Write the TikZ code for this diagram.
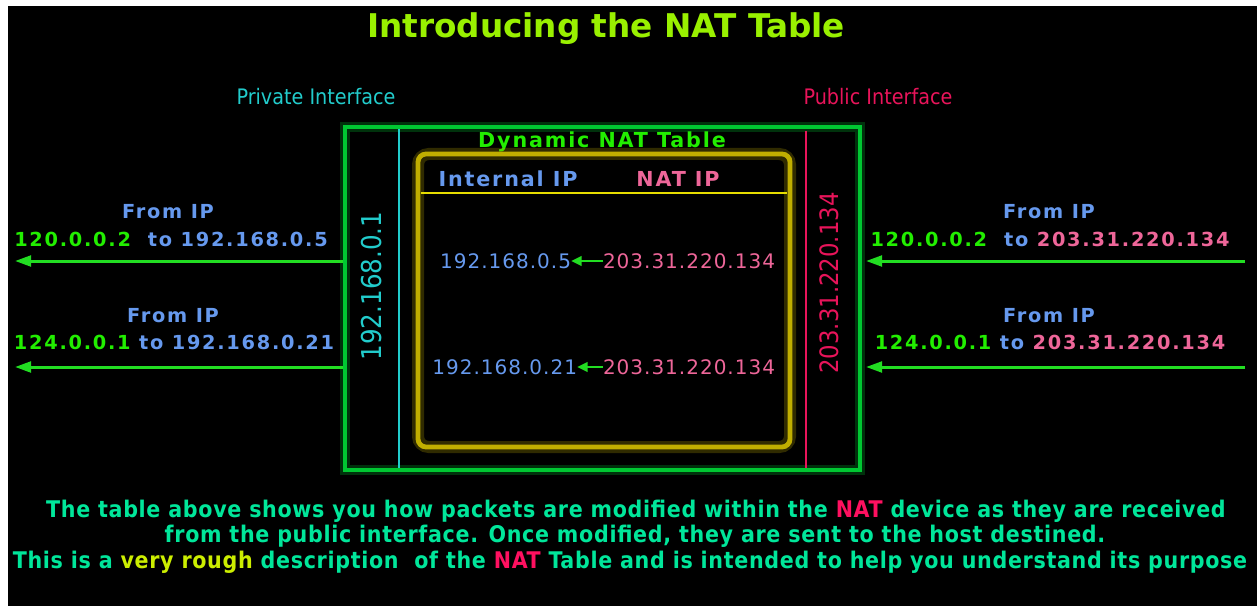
\documentclass[tikz,border=0pt]{standalone}
\usepackage{fontspec}
\setmainfont{DejaVu Sans}
\newfontfamily\pixreg{DejaVu Sans}[LetterSpace=5]
\newfontfamily\pixbold{DejaVu Sans}[LetterSpace=9]
\newfontfamily\condreg{DejaVu Sans Condensed}
\newfontfamily\condbold{DejaVu Sans Condensed Bold}[LetterSpace=3]
\usetikzlibrary{arrows.meta}

\definecolor{titlegreen}{HTML}{99F000}
\definecolor{boxgreen}{HTML}{00C832}
\definecolor{arrowgreen}{HTML}{22DD22}
\definecolor{ipgreen}{HTML}{22EE00}
\definecolor{privcyan}{HTML}{22CCCC}
\definecolor{pubred}{HTML}{E8145A}
\definecolor{tabyellow}{HTML}{C0AE00}
\definecolor{headyellow}{HTML}{E6DC00}
\definecolor{ipblue}{HTML}{6699EE}
\definecolor{ippink}{HTML}{EE6699}
\definecolor{notegreen}{HTML}{00E69A}
\definecolor{roughyellow}{HTML}{CCEE00}
\definecolor{natred}{HTML}{FF1060}

\tikzset{
  txt/.style={inner sep=0pt, outer sep=0pt},
  fromlbl/.style={txt, text=ipblue, font=\pixbold\bfseries\fontsize{14.5}{17}\selectfont},
  pathlbl/.style={txt, font=\pixbold\bfseries\fontsize{14.5}{17}\selectfont},
  cellip/.style={txt, font=\pixreg\fontsize{15}{18}\selectfont},
  colhead/.style={txt, font=\pixbold\bfseries\fontsize{15.5}{18}\selectfont},
  ifacelbl/.style={txt, font=\condreg\fontsize{16}{19}\selectfont},
  rotip/.style={txt, rotate=90, font=\condreg\fontsize{19.5}{22}\selectfont},
  note/.style={txt, text=notegreen, font=\condbold\fontsize{17.2}{20}\selectfont},
  flow/.style={draw=arrowgreen, line width=2.25pt, -{Triangle[length=12pt,width=8pt]}},
  mapflow/.style={draw=arrowgreen, line width=2pt, -{Triangle[length=8pt,width=7pt]}},
}

\begin{document}
\begin{tikzpicture}[x=0.75pt, y=-0.75pt]
  % page and black backdrop
  \fill[white] (0,0) rectangle (1257,606);
  \fill[black] (8,6) rectangle (1257,606);
  \useasboundingbox (0,0) rectangle (1257,606);

  % heading and interface captions
  \node[txt, text=titlegreen, font=\bfseries\fontsize{24.5}{28}\selectfont] (title) at (606,29) {Introducing the NAT Table};
  \node[ifacelbl, text=privcyan] (priv) at (316,97) {Private Interface};
  \node[ifacelbl, text=pubred] (pub) at (878,97) {Public Interface};

  % NAT device box with soft glow
  \draw[boxgreen, line width=7pt, opacity=0.25] (345,127) rectangle (860,470);
  \node[draw=boxgreen, line width=3pt, minimum width=386.25pt, minimum height=257.25pt, inner sep=0pt] (dev) at (602.5,298.5) {};

  % interface edges inside the device
  \draw[privcyan, line width=1.8pt] (399,129) -- (399,468);
  \draw[pubred, line width=1.8pt] (806,131) -- (806,468);

  % the NAT table itself
  \node[txt, text=ipgreen, font=\pixbold\bfseries\fontsize{15.5}{18}\selectfont] (tabtitle) at (602,142) {Dynamic NAT Table};
  \draw[tabyellow, line width=9pt, opacity=0.25, rounded corners=8pt] (418,154) rectangle (790,447);
  \node[draw=tabyellow, line width=3.6pt, rounded corners=6pt, minimum width=279pt, minimum height=219.75pt, inner sep=0pt] (tab) at (604,300.5) {};
  \draw[headyellow, line width=2pt] (421,193) -- (787,193);

  \node[colhead, text=ipblue] (hint) at (508,179) {Internal IP};
  \node[colhead, text=ippink] (hnat) at (678,179) {NAT IP};

  \node[cellip, text=ipblue, anchor=east] (int1) at (571,261) {192.168.0.5};
  \node[cellip, text=ippink, anchor=west] (nat1) at (603,261) {203.31.220.134};
  \node[cellip, text=ipblue, anchor=east] (int2) at (577,367) {192.168.0.21};
  \node[cellip, text=ippink, anchor=west] (nat2) at (603,367) {203.31.220.134};
  \draw[mapflow] (nat1.west) -- (int1.east);
  \draw[mapflow] (nat2.west) -- (int2.east);

  % interface addresses written along the edges
  \node[rotip, text=privcyan, font=\condreg\fontsize{20.5}{23}\selectfont] (privip) at (372,286) {192.168.0.1};
  \node[rotip, text=pubred, font=\condreg\fontsize{19}{22}\selectfont] (pubip) at (829,283) {203.31.220.134};

  % private side: packets leaving towards the hosts
  \node[fromlbl] (lfrom1) at (168,212) {From IP};
  \node[pathlbl] (lpath1) at (171,239) {\textcolor{ipgreen}{120.0.0.2}~ \textcolor{ipblue}{to 192.168.0.5}};
  \node[fromlbl] (lfrom2) at (173,316) {From IP};
  \node[pathlbl] (lpath2) at (174,342) {\textcolor{ipgreen}{124.0.0.1} \textcolor{ipblue}{to 192.168.0.21}};
  \coordinate (lend1) at (15,261);
  \coordinate (lend2) at (15,367);
  \draw[flow] (dev.west |- lend1) -- (lend1);
  \draw[flow] (dev.west |- lend2) -- (lend2);

  % public side: packets arriving from outside
  \node[fromlbl] (rfrom1) at (1049,212) {From IP};
  \node[pathlbl] (rpath1) at (1050,239) {\textcolor{ipgreen}{120.0.0.2}~ \textcolor{ipblue}{to} \textcolor{ippink}{203.31.220.134}};
  \node[fromlbl] (rfrom2) at (1049,316) {From IP};
  \node[pathlbl] (rpath2) at (1050,342) {\textcolor{ipgreen}{124.0.0.1} \textcolor{ipblue}{to} \textcolor{ippink}{203.31.220.134}};
  \coordinate (rstart1) at (1245,261);
  \coordinate (rstart2) at (1245,367);
  \coordinate (rtip1) at (866,261);
  \coordinate (rtip2) at (866,367);
  \draw[flow] (rstart1) -- (rtip1);
  \draw[flow] (rstart2) -- (rtip2);

  % explanatory note
  \node[note] (note1) at (636,511) {The table above shows you how packets are modified within the \textcolor{natred}{NAT} device as they are received};
  \node[note] (note2) at (635,536) {from the public interface. Once modified, they are sent to the host destined.};
  \node[note] (note3) at (630,562) {This is a \textcolor{roughyellow}{very rough} description~ of the \textcolor{natred}{NAT} Table and is intended to help you understand its purpose};
\end{tikzpicture}
\end{document}
